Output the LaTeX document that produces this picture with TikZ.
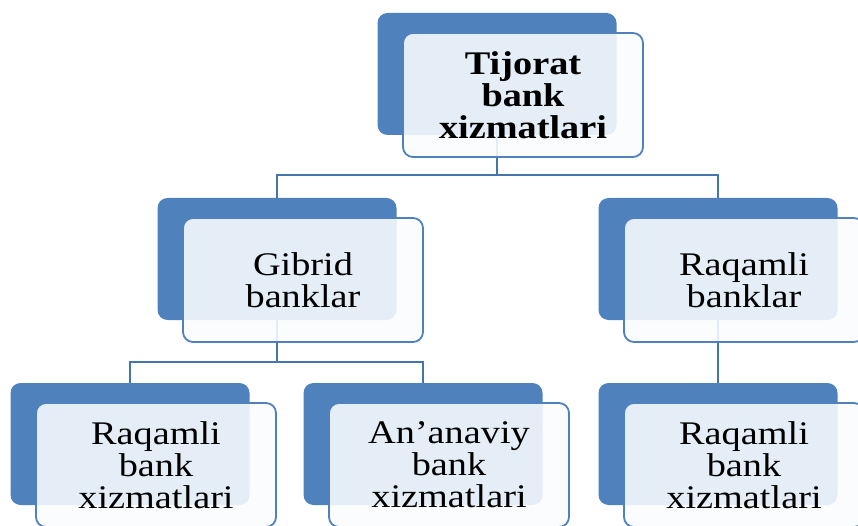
\documentclass[tikz,border=0pt]{standalone}
\usepackage{fontspec}
\setmainfont{Liberation Serif}[FakeStretch=1.16]
\usepackage{tikz}
\usetikzlibrary{positioning,backgrounds}
\usepackage{xcolor}
\definecolor{artblue}{HTML}{4F81BD}
\definecolor{artline}{HTML}{4575AD}
\definecolor{artice}{HTML}{FAFCFE}
\tikzset{
  backbox/.style={
    rounded corners=10pt,
    fill=artblue,
    draw=none,
    minimum width=239pt,
    minimum height=122pt
  },
  frontbox/.style={
    rounded corners=10pt,
    draw=artblue,
    fill=artice,
    fill opacity=0.88,
    text opacity=1,
    line width=1.8pt,
    minimum width=240pt,
    minimum height=124pt,
    align=center,
    font=\fontsize{33}{32}\selectfont
  },
  link/.style={
    line width=2.4pt,
    draw=artline
  }
}

\begin{document}
\begin{tikzpicture}
\useasboundingbox (0,0) rectangle (858pt,525pt);
\clip (0,0) rectangle (858pt,525pt);
% back boxes
\node[backbox] (topbk) at (497pt,451pt) {};
\node[backbox] (gibbk) at (277pt,266pt) {};
\node[backbox] (raqbk) at (718pt,266pt) {};
\node[backbox] (rbxbk) at (130pt,81pt) {};
\node[backbox] (abxbk) at (423pt,81pt) {};
\node[backbox] (dbxbk) at (718pt,81pt) {};
% front boxes
\node[frontbox] (topfr) at ([shift={(26pt,-21pt)}]topbk.center) {\bfseries Tijorat\\\bfseries bank\\\bfseries xizmatlari};
\node[frontbox] (gibfr) at ([shift={(26pt,-21pt)}]gibbk.center) {Gibrid\\banklar};
\node[frontbox] (raqfr) at ([shift={(26pt,-21pt)}]raqbk.center) {Raqamli\\banklar};
\node[frontbox] (rbxfr) at ([shift={(26pt,-21pt)}]rbxbk.center) {Raqamli\\bank\\xizmatlari};
\node[frontbox] (abxfr) at ([shift={(26pt,-21pt)}]abxbk.center) {An’anaviy\\bank\\xizmatlari};
\node[frontbox] (dbxfr) at ([shift={(26pt,-21pt)}]dbxbk.center) {Raqamli\\bank\\xizmatlari};
% connectors
\begin{scope}[on background layer]
\draw[link] (topbk.south) -- ++(0,-40pt) -| (gibbk.north);
\draw[link] (topbk.south) -- ++(0,-40pt) -| (raqbk.north);
\draw[link] (gibbk.south) -- ++(0,-42pt) -| (rbxbk.north);
\draw[link] (gibbk.south) -- ++(0,-42pt) -| (abxbk.north);
\draw[link] (raqbk.south) -- (dbxbk.north);
\end{scope}
\end{tikzpicture}
\end{document}
